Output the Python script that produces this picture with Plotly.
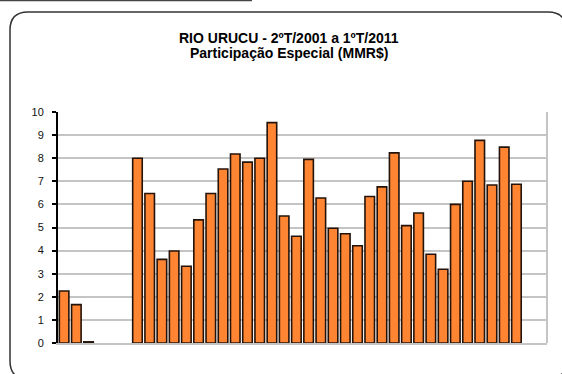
import plotly.graph_objects as go

# Quarters from 2ºT/2001 to 1ºT/2011
quarters = []
for year in range(2001, 2012):
    for q in range(1, 5):
        if (year == 2001 and q < 2) or (year == 2011 and q > 1):
            continue
        quarters.append(f"{q}ºT/{year}")

# Participação Especial (MMR$) per quarter; None = no payment recorded
valores = [
    2.25, 1.66, 0.05, None, None, None,
    8.00, 6.47, 3.62, 3.98, 3.32, 5.33, 6.47, 7.53, 8.18, 7.83, 8.00, 9.54,
    5.50, 4.62, 7.95, 6.28, 4.97, 4.73, 4.21, 6.34, 6.76, 8.23, 5.08, 5.63,
    3.84, 3.19, 6.00, 7.00, 8.77, 6.84, 8.48, 6.87,
    None, None,
]

titulo_linha1 = "RIO URUCU - 2ºT/2001 a 1ºT/2011"
titulo_linha2 = "Participação Especial (MMR$)"
y_ticks = list(range(0, 11))

W, H = 562, 374
L, R, T, B = 58, 15, 112, 31
PW, PH = W - L - R, H - T - B


def px(x):
    return (x - L) / PW


def py(y):
    return (H - B - y) / PH


fig = go.Figure()
fig.add_trace(go.Bar(
    x=quarters,
    y=valores,
    width=0.78,
    marker=dict(color="#FF8533", line=dict(color="#24130a", width=1.6)),
    hoverinfo="x+y",
))

# outer rounded frame
x0, y0, x1, y1, r = 10, 12, 566, 379, 18
frame = (
    f"M {px(x0)},{py(y0 + r)} "
    f"Q {px(x0)},{py(y0)} {px(x0 + r)},{py(y0)} "
    f"L {px(x1 - r)},{py(y0)} "
    f"Q {px(x1)},{py(y0)} {px(x1)},{py(y0 + r)} "
    f"L {px(x1)},{py(y1 - r)} "
    f"Q {px(x1)},{py(y1)} {px(x1 - r)},{py(y1)} "
    f"L {px(x0 + r)},{py(y1)} "
    f"Q {px(x0)},{py(y1)} {px(x0)},{py(y1 - r)} Z"
)
fig.add_shape(type="path", path=frame, xref="paper", yref="paper",
              line=dict(color="#333333", width=1.5), layer="below")
fig.add_shape(type="line", xref="paper", yref="paper",
              x0=px(0), x1=px(252), y0=py(0.5), y1=py(0.5),
              line=dict(color="#444444", width=1.5))
# right edge of the plot area
fig.add_shape(type="line", xref="paper", yref="paper",
              x0=1, x1=1, y0=0, y1=1,
              line=dict(color="#c4c4c4", width=2))

fig.add_annotation(text=f"<b>{titulo_linha1}</b>", xref="paper", yref="paper",
                   x=px(289), y=py(38), xanchor="center", yanchor="middle",
                   showarrow=False, font=dict(size=14, color="#000000"))
fig.add_annotation(text=f"<b>{titulo_linha2}</b>", xref="paper", yref="paper",
                   x=px(289), y=py(52.5), xanchor="center", yanchor="middle",
                   showarrow=False, font=dict(size=14, color="#000000"))

fig.update_layout(
    width=W, height=H,
    margin=dict(l=L, r=R, t=T, b=B),
    paper_bgcolor="white", plot_bgcolor="white",
    font=dict(family="Liberation Sans, Arial, sans-serif", size=11, color="#000000"),
    showlegend=False,
    bargap=0.22,
    xaxis=dict(
        type="category",
        categoryorder="array", categoryarray=quarters,
        range=[-0.5, len(quarters) - 0.5],
        showticklabels=False, ticks="",
        showgrid=False, zeroline=False,
        showline=True, linecolor="#c4c4c4", linewidth=2,
        fixedrange=True,
    ),
    yaxis=dict(
        range=[0, 10], tickvals=y_ticks,
        ticks="outside", ticklen=4, tickwidth=1.5, tickcolor="#000000",
        showgrid=True, gridcolor="#c4c4c4", gridwidth=2,
        zeroline=False,
        showline=True, linecolor="#000000", linewidth=2,
        ticklabelstandoff=6,
        tickfont=dict(size=11, color="#111111"),
        fixedrange=True,
    ),
)

fig.write_html("out.html")
